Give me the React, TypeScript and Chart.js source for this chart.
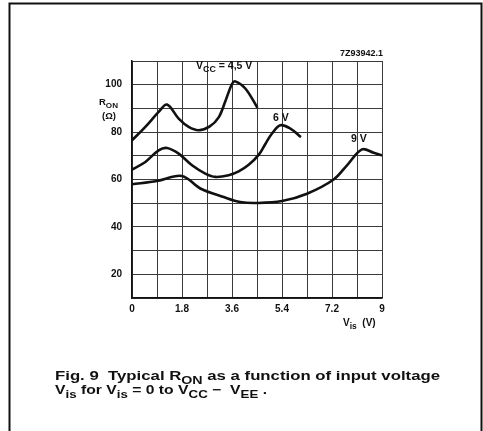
import React, { useEffect, useRef } from 'react';
import { Chart, registerables } from 'chart.js';

Chart.register(...registerables);

// ---- data ----
const xTickLabels = ['0', '1.8', '3.6', '5.4', '7.2', '9'];
const yTickLabels = ['20', '40', '60', '80', '100'];

const vis45 = [0, 0.48, 0.96, 1.26, 1.68, 2.04, 2.4, 2.8, 3.12, 3.36, 3.6, 3.72, 4.08, 4.5];
const ron45 = [76.5, 82.2, 88.5, 91.6, 85.7, 82.2, 80.8, 82.4, 86.2, 93.0, 100.3, 101.4, 98.4, 90.6];

const vis6 = [0, 0.48, 0.96, 1.26, 1.68, 2.16, 2.64, 3.0, 3.48, 3.84, 4.2, 4.56, 4.8, 5.04, 5.34, 5.7, 6.05];
const ron6 = [64.2, 67.4, 72.3, 73.3, 70.9, 66.0, 62.5, 61.1, 61.8, 63.4, 66.2, 70.4, 75.0, 79.4, 82.9, 81.5, 78.2];

const vis9 = [0, 0.9, 1.8, 2.46, 3.3, 3.9, 4.5, 5.4, 6.3, 7.26, 7.74, 8.28, 8.7, 9];
const ron9 = [58.0, 59.4, 61.5, 56.2, 52.6, 50.5, 50.1, 50.9, 54.0, 60.0, 66.0, 72.7, 71.3, 70.2];

const seriesLabels = ['4,5 V', '6 V', '9 V'];

type Part = { t: string; sub?: boolean };

const FAMILY = '"Liberation Sans", Arial, sans-serif';

function richWidth(ctx: CanvasRenderingContext2D, parts: Part[], size: number) {
  let w = 0;
  for (const p of parts) {
    ctx.font = `bold ${p.sub ? size * 0.85 : size}px ${FAMILY}`;
    w += ctx.measureText(p.t).width;
  }
  return w;
}

function drawRich(
  ctx: CanvasRenderingContext2D,
  parts: Part[],
  x: number,
  y: number,
  size: number,
  targetWidth?: number,
  subShift?: number
) {
  const w = richWidth(ctx, parts, size);
  const sx = targetWidth ? targetWidth / w : 1;
  ctx.save();
  ctx.translate(x, y);
  ctx.scale(sx, 1);
  ctx.fillStyle = '#111';
  ctx.textBaseline = 'alphabetic';
  ctx.textAlign = 'left';
  let cx = 0;
  for (const p of parts) {
    const s = p.sub ? size * 0.85 : size;
    ctx.font = `bold ${s}px ${FAMILY}`;
    ctx.fillText(p.t, cx, p.sub ? (subShift ?? size * 0.32) : 0);
    cx += ctx.measureText(p.t).width;
  }
  ctx.restore();
}

const annotationPlugin = {
  id: 'annotations',
  afterDraw(chart: any) {
    const ctx: CanvasRenderingContext2D = chart.ctx;
    ctx.save();
    // outer frame (left, top, right)
    ctx.strokeStyle = '#111';
    ctx.lineWidth = 2;
    ctx.beginPath();
    ctx.moveTo(9.5, 431);
    ctx.lineTo(9.5, 3.5);
    ctx.lineTo(481.5, 3.5);
    ctx.lineTo(481.5, 431);
    ctx.stroke();

    // figure code
    ctx.font = `bold 9px ${FAMILY}`;
    ctx.fillStyle = '#111';
    ctx.textAlign = 'right';
    ctx.textBaseline = 'alphabetic';
    ctx.fillText('7Z93942.1', 383, 56);

    // curve labels
    drawRich(ctx, [{ t: 'V' }, { t: 'CC', sub: true }, { t: ' = ' + seriesLabels[0] }], 196, 69, 10.5);
    drawRich(ctx, [{ t: seriesLabels[1] }], 273, 121, 10.5);
    drawRich(ctx, [{ t: seriesLabels[2] }], 351, 142, 10.5);

    // y axis title
    drawRich(ctx, [{ t: 'R' }, { t: 'ON', sub: true }], 99, 105, 9.5);
    drawRich(ctx, [{ t: '(Ω)' }], 102, 119, 9.5);

    // x axis title
    drawRich(ctx, [{ t: 'V' }, { t: 'is', sub: true }, { t: '  (V)' }], 343, 326, 10);

    // caption
    drawRich(
      ctx,
      [{ t: 'Fig. 9  Typical R' }, { t: 'ON', sub: true }, { t: ' as a function of input voltage' }],
      55,
      380,
      12.5,
      385,
      3.5
    );
    drawRich(
      ctx,
      [
        { t: 'V' }, { t: 'is', sub: true }, { t: ' for V' }, { t: 'is', sub: true },
        { t: ' = 0 to V' }, { t: 'CC', sub: true }, { t: ' \u2212  V' }, { t: 'EE', sub: true }, { t: ' .' },
      ],
      55,
      394,
      12.5,
      212,
      3.5
    );
    ctx.restore();
  },
};

function toPoints(xs: number[], ys: number[]) {
  return xs.map((x, i) => ({ x, y: ys[i] }));
}

export default function App() {
  const ref = useRef<HTMLCanvasElement | null>(null);

  useEffect(() => {
    if (!ref.current) return;
    const lineStyle = {
      borderColor: '#111',
      borderWidth: 2.6,
      pointRadius: 0,
      fill: false,
      tension: 0.35,
      borderCapStyle: 'round' as const,
      borderJoinStyle: 'round' as const,
    };
    const tickFont = { family: FAMILY, size: 10, weight: 'bold' as const };
    const chart = new Chart(ref.current, {
      type: 'line',
      data: {
        datasets: [
          { label: seriesLabels[0], data: toPoints(vis45, ron45), ...lineStyle },
          { label: seriesLabels[1], data: toPoints(vis6, ron6), ...lineStyle },
          { label: seriesLabels[2], data: toPoints(vis9, ron9), ...lineStyle },
        ],
      },
      options: {
        responsive: false,
        animation: false,
        layout: { padding: { left: 92, right: 101, top: 61, bottom: 113 } },
        plugins: { legend: { display: false }, tooltip: { enabled: false } },
        scales: {
          x: {
            type: 'linear',
            min: 0,
            max: 9,
            afterFit: (s: any) => { s.height = 20; },
            ticks: {
              stepSize: 0.9,
              autoSkip: false,
              maxRotation: 0,
              padding: 5,
              color: '#111',
              font: tickFont,
              callback: (_v: any, i: number) => (i % 2 === 0 ? xTickLabels[i / 2] : ''),
            },
            grid: { color: '#3a3a3a', lineWidth: 1, drawTicks: false },
            border: { color: '#111', width: 1.5 },
          },
          y: {
            type: 'linear',
            min: 10,
            max: 110,
            afterFit: (s: any) => { s.width = 40; },
            ticks: {
              stepSize: 10,
              padding: 10,
              color: '#111',
              font: tickFont,
              callback: (v: any) => (yTickLabels.includes(String(v)) ? String(v) : ''),
            },
            grid: { color: '#3a3a3a', lineWidth: 1, drawTicks: false },
            border: { color: '#111', width: 1.5 },
          },
        },
      },
      plugins: [annotationPlugin],
    });
    return () => chart.destroy();
  }, []);

  return (
    <div style={{ position: 'absolute', left: 0, top: 0, width: 483, height: 431, background: '#fff' }}>
      <canvas ref={ref} width={483} height={431} style={{ display: 'block' }} />
    </div>
  );
}
